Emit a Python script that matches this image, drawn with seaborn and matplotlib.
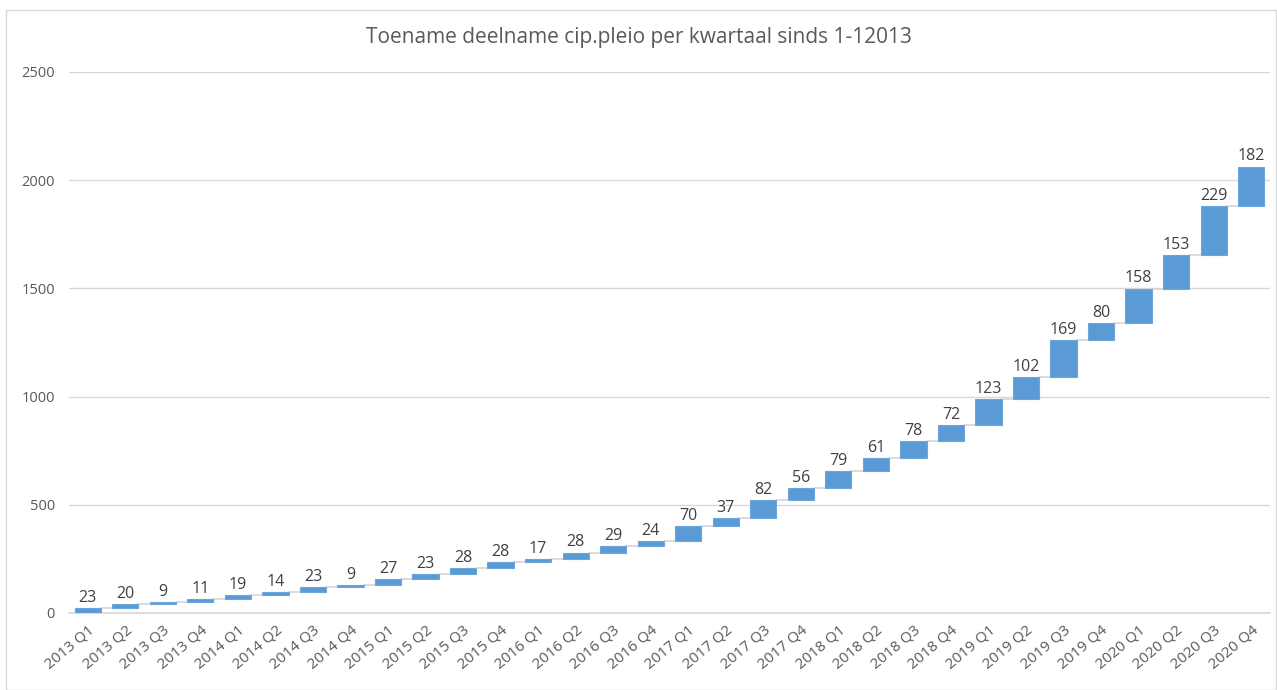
import numpy as np
import pandas as pd
import matplotlib
matplotlib.use("Agg")
import matplotlib.pyplot as plt
import seaborn as sns
from matplotlib.patches import Rectangle

quarters = ["2013 Q1", "2013 Q2", "2013 Q3", "2013 Q4",
            "2014 Q1", "2014 Q2", "2014 Q3", "2014 Q4",
            "2015 Q1", "2015 Q2", "2015 Q3", "2015 Q4",
            "2016 Q1", "2016 Q2", "2016 Q3", "2016 Q4",
            "2017 Q1", "2017 Q2", "2017 Q3", "2017 Q4",
            "2018 Q1", "2018 Q2", "2018 Q3", "2018 Q4",
            "2019 Q1", "2019 Q2", "2019 Q3", "2019 Q4",
            "2020 Q1", "2020 Q2", "2020 Q3", "2020 Q4"]
increases = [23, 20, 9, 11, 19, 14, 23, 9, 27, 23, 28, 28, 17, 28, 29, 24,
             70, 37, 82, 56, 79, 61, 78, 72, 123, 102, 169, 80, 158, 153, 229, 182]
title = "Toename deelname cip.pleio per kwartaal sinds 1-12013"
yticks = [0, 500, 1000, 1500, 2000, 2500]

sns.set_theme(style="white")
plt.rcParams["font.family"] = ["Open Sans", "DejaVu Sans"]

cum = np.cumsum(increases)
bottoms = cum - np.array(increases)
df = pd.DataFrame({"quarter": quarters, "inc": increases})

fig = plt.figure(figsize=(12.77, 6.90), dpi=100)
ax = fig.add_axes([0.054, 0.1116, 0.9405, 0.7841])

bar_color = "#5B9BD5"
text_color = "#595959"

sns.barplot(data=df, x="quarter", y="inc", bottom=bottoms, color=bar_color,
            saturation=1, width=0.7, ax=ax, zorder=3,
            edgecolor="#6CA6DC", linewidth=0.8)

# connector lines
for i in range(len(increases) - 1):
    ax.plot([i + 0.35, i + 1 - 0.35], [cum[i], cum[i]], color="#D6D6D6",
            lw=1.2, zorder=2)

for i, (c, v) in enumerate(zip(cum, increases)):
    ax.text(i, c + 10, str(v), ha="center", va="bottom", fontsize=11.5,
            color="#404040")

ax.set_xlim(-0.5, len(quarters) - 0.5)
ax.set_ylim(0, 2500)
ax.set_yticks(yticks)
ax.set_yticklabels([str(t) for t in yticks], fontsize=10.5, color=text_color)
ax.yaxis.grid(True, color="#D9D9D9", lw=1, zorder=0)
ax.set_axisbelow(True)
ax.tick_params(axis="x", length=0, pad=7)
ax.tick_params(axis="y", length=0, pad=10)
for lbl in ax.get_xticklabels():
    lbl.set_rotation(40)
    lbl.set_ha("right")
    lbl.set_rotation_mode("anchor")
    lbl.set_fontsize(11)
    lbl.set_color(text_color)
ax.set_xlabel("")
ax.set_ylabel("")
for s in ["top", "right", "left"]:
    ax.spines[s].set_visible(False)
ax.spines["bottom"].set_color("#D9D9D9")

fig.text(0.5, 0.945, title, ha="center", va="center", fontsize=15,
         color=text_color)

fig.patches.append(Rectangle((0.005, 0.0), 0.994, 0.985, transform=fig.transFigure,
                             fill=False, edgecolor="#D9D9D9", lw=1))

fig.savefig("out.png", dpi=100, facecolor="white")
